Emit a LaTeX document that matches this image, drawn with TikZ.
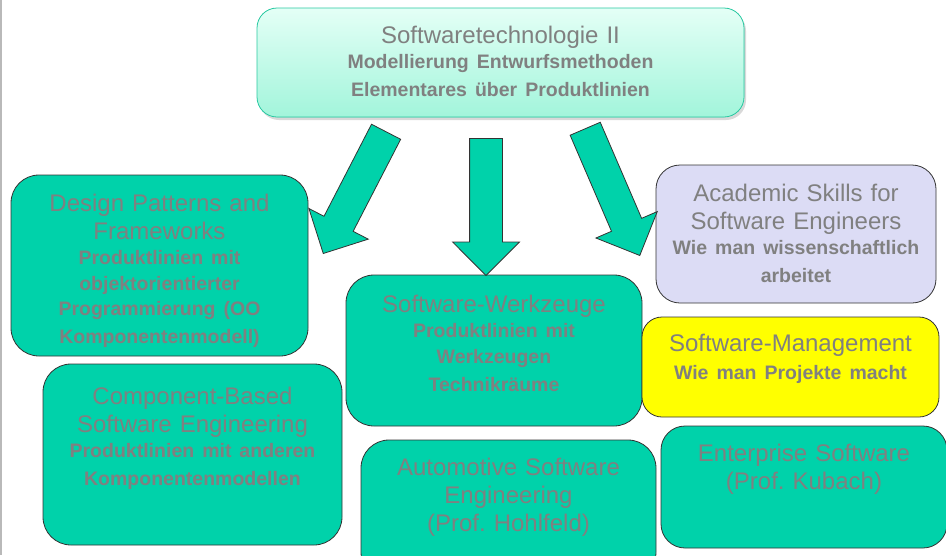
\documentclass[tikz,border=0pt]{standalone}
\usepackage{fontspec}
\setmainfont{Liberation Sans}
\usetikzlibrary{positioning,shapes.arrows,shadows}
\setlength{\parindent}{0pt}
\frenchspacing

\definecolor{modteal}{HTML}{00D2AA}
\definecolor{modgrey}{HTML}{808080}
\definecolor{modlilac}{HTML}{DCDCF5}
\definecolor{modyellow}{HTML}{FFFF00}
\definecolor{topline}{HTML}{2BC9A2}
\definecolor{toplight}{HTML}{E4FFF6}
\definecolor{topdark}{HTML}{A2F5DB}

\newcommand{\titlefont}{\fontsize{24}{28}\selectfont}
\newcommand{\subfont}{\fontsize{19.5}{25.5}\selectfont\bfseries}

\tikzset{
  course/.style={draw=black!80, line width=0.8pt, fill=modteal, rounded corners=28pt, inner sep=0pt},
  coursetext/.style={text=modgrey, text width=285pt, align=center, inner sep=0pt, font=\titlefont},
  bigarrow/.style={single arrow, draw=black!80, line width=0.8pt, fill=modteal, inner xsep=0pt, inner ysep=16pt,
    text height=0pt, text depth=0pt, single arrow head extend=17pt, single arrow tip angle=90,
    minimum height=137pt, anchor=tip},
}

\begin{document}
\begin{tikzpicture}[x=1pt,y=-1pt]
\clip (0,0) rectangle (946,555);
\draw[gray!55, line width=2pt] (1,0) -- (1,555);

% lecture on top
\node[course, draw=topline, top color=toplight, bottom color=topdark, rounded corners=20pt,
  minimum width=487pt, minimum height=109pt,
  drop shadow={shadow xshift=2pt, shadow yshift=-3pt, opacity=0.3}] (swt) at (500.5,62.5) {};
\node[coursetext, text width=470pt, below=18pt of swt.north] (swttext)
  {Softwaretechnologie II\par\subfont Modellierung Entwurfsmethoden\\Elementares über Produktlinien};

% follow-up courses
\node[course, minimum width=297pt, minimum height=181pt] (dp) at (159.5,265.5) {};
\node[coursetext, below=19pt of dp.north] (dptext)
  {Design Patterns and\\Frameworks\par\subfont Produktlinien mit\\objektorientierter\\Programmierung (OO\\Komponentenmodell)};

\node[course, minimum width=299pt, minimum height=181pt] (cb) at (192.5,454.5) {};
\node[coursetext, below=23pt of cb.north] (cbtext)
  {Component-Based\\Software Engineering\par\subfont Produktlinien mit anderen\\Komponentenmodellen};

\node[course, minimum width=296pt, minimum height=151pt] (swz) at (494,350.5) {};
\node[coursetext, below=20pt of swz.north] (swztext)
  {Software-Werkzeuge\par\subfont Produktlinien mit\\Werkzeugen\\Technikräume};

\node[course, minimum width=295pt, minimum height=140pt] (auto) at (508.5,510) {};
\node[coursetext, below=18pt of auto.north] (autotext)
  {Automotive Software\\Engineering\\(Prof. Hohlfeld)};

\node[course, fill=modlilac, rounded corners=24pt, minimum width=280pt, minimum height=138pt] (acad) at (796,234) {};
\node[coursetext, below=19pt of acad.north] (acadtext)
  {Academic Skills for\\Software Engineers\par\subfont Wie man wissenschaftlich\\arbeitet};

\node[course, fill=modyellow, rounded corners=20pt, minimum width=297pt, minimum height=100pt] (mgmt) at (790.5,367) {};
\node[coursetext, below=17pt of mgmt.north] (mgmttext)
  {Software-Management\par\subfont Wie man Projekte macht};

\node[course, rounded corners=24pt, minimum width=286pt, minimum height=122pt] (ent) at (804,487) {};
\node[coursetext, below=18pt of ent.north] (enttext)
  {Enterprise Software\\(Prof. Kubach)};

% big arrows
\node[bigarrow, rotate=-117.3] (toleft) at (323,254) {};
\node[bigarrow, rotate=-90] (todown) at (486,276) {};
\node[bigarrow, rotate=-66.7, minimum height=138pt] (toright) at (640,256) {};
\end{tikzpicture}
\end{document}
